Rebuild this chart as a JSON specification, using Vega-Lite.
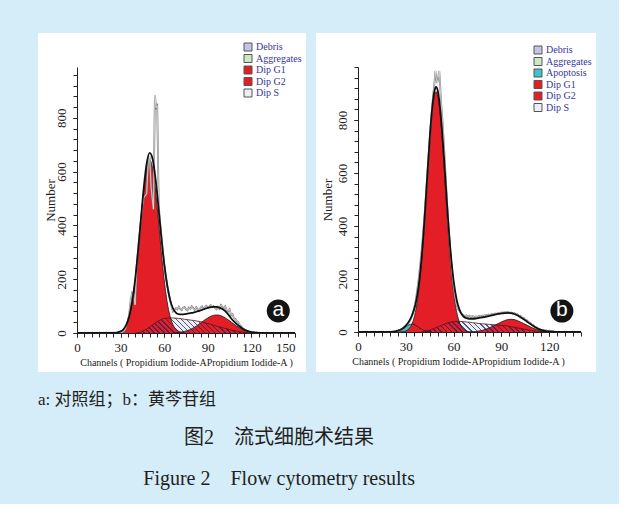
{
"$schema": "https://vega.github.io/schema/vega-lite/v6.json",
"background": "#d5ecf9",
"padding": {"left": 38, "top": 33, "right": 22, "bottom": 14},
"config": {
  "view": {"stroke": null},
  "axis": {"grid": false, "domainColor": "#222", "tickColor": "#222", "tickSize": 4, "labelFont": "Liberation Serif", "labelFontSize": 13, "labelColor": "#222", "titleFont": "Liberation Serif", "titleFontWeight": "normal", "titleColor": "#222", "labelFlush": false},
  "legend": {"labelFont": "Liberation Serif", "labelFontSize": 10, "labelColor": "#3535a0", "symbolType": "square", "symbolSize": 64, "rowPadding": -0.5, "labelOffset": 3, "padding": 0}
},
"datasets": {
  "aG1": [{"ch":26,"n":0},{"ch":28,"n":2},{"ch":30,"n":6},{"ch":32,"n":14},{"ch":34,"n":31},{"ch":36,"n":63},{"ch":38,"n":117},{"ch":40,"n":197},{"ch":42,"n":302},{"ch":44,"n":420},{"ch":46,"n":532},{"ch":48,"n":613},{"ch":50,"n":643},{"ch":52,"n":613},{"ch":54,"n":532},{"ch":56,"n":420},{"ch":58,"n":302},{"ch":60,"n":197},{"ch":62,"n":117},{"ch":64,"n":63},{"ch":66,"n":31},{"ch":68,"n":14},{"ch":70,"n":6},{"ch":72,"n":2},{"ch":74,"n":0}],
  "aG2": [{"ch":66,"n":0},{"ch":68,"n":1},{"ch":70,"n":2},{"ch":72,"n":4},{"ch":74,"n":6},{"ch":76,"n":9},{"ch":78,"n":13},{"ch":80,"n":19},{"ch":82,"n":25},{"ch":84,"n":33},{"ch":86,"n":41},{"ch":88,"n":49},{"ch":90,"n":56},{"ch":92,"n":62},{"ch":94,"n":66},{"ch":96,"n":67},{"ch":98,"n":66},{"ch":100,"n":62},{"ch":102,"n":56},{"ch":104,"n":49},{"ch":106,"n":41},{"ch":108,"n":33},{"ch":110,"n":25},{"ch":112,"n":19},{"ch":114,"n":13},{"ch":116,"n":9},{"ch":118,"n":6},{"ch":120,"n":4},{"ch":122,"n":2},{"ch":124,"n":1},{"ch":126,"n":0}],
  "aS": [{"ch":40,"n":0},{"ch":42,"n":1},{"ch":44,"n":4},{"ch":46,"n":9},{"ch":48,"n":15},{"ch":50,"n":22},{"ch":52,"n":30},{"ch":54,"n":38},{"ch":56,"n":45},{"ch":58,"n":50},{"ch":60,"n":54},{"ch":62,"n":55},{"ch":64,"n":56},{"ch":66,"n":56},{"ch":68,"n":55},{"ch":70,"n":54},{"ch":72,"n":53},{"ch":74,"n":51},{"ch":76,"n":50},{"ch":78,"n":48},{"ch":80,"n":47},{"ch":82,"n":45},{"ch":84,"n":43},{"ch":86,"n":41},{"ch":88,"n":38},{"ch":90,"n":35},{"ch":92,"n":32},{"ch":94,"n":29},{"ch":96,"n":26},{"ch":98,"n":23},{"ch":100,"n":20},{"ch":102,"n":17},{"ch":104,"n":14},{"ch":106,"n":11},{"ch":108,"n":9},{"ch":110,"n":7},{"ch":112,"n":5},{"ch":114,"n":3},{"ch":116,"n":2},{"ch":118,"n":1},{"ch":120,"n":0}],
  "aFit": [{"ch":0,"n":0},{"ch":24,"n":0},{"ch":26,"n":0},{"ch":28,"n":2},{"ch":30,"n":6},{"ch":32,"n":14},{"ch":34,"n":31},{"ch":36,"n":63},{"ch":38,"n":118},{"ch":40,"n":198},{"ch":42,"n":304},{"ch":44,"n":425},{"ch":46,"n":543},{"ch":48,"n":632},{"ch":50,"n":670},{"ch":52,"n":648},{"ch":54,"n":575},{"ch":56,"n":470},{"ch":58,"n":358},{"ch":60,"n":258},{"ch":62,"n":180},{"ch":64,"n":125},{"ch":66,"n":92},{"ch":68,"n":76},{"ch":70,"n":70},{"ch":72,"n":69},{"ch":74,"n":70},{"ch":76,"n":72},{"ch":78,"n":74},{"ch":80,"n":76},{"ch":82,"n":79},{"ch":84,"n":82},{"ch":86,"n":86},{"ch":88,"n":90},{"ch":90,"n":93},{"ch":92,"n":96},{"ch":94,"n":97},{"ch":96,"n":97},{"ch":98,"n":94},{"ch":100,"n":89},{"ch":102,"n":81},{"ch":104,"n":69},{"ch":106,"n":55},{"ch":108,"n":43},{"ch":110,"n":33},{"ch":112,"n":24},{"ch":114,"n":16},{"ch":116,"n":10},{"ch":118,"n":6},{"ch":120,"n":3},{"ch":122,"n":2},{"ch":124,"n":1},{"ch":126,"n":0},{"ch":150,"n":0}],
  "aRaw": [{"ch":0,"n":0},{"ch":30,"n":1},{"ch":32,"n":6},{"ch":33,"n":12},{"ch":34,"n":28},{"ch":35,"n":45},{"ch":36,"n":72},{"ch":37,"n":125},{"ch":38,"n":150},{"ch":39,"n":146},{"ch":40,"n":105},{"ch":41,"n":245},{"ch":42,"n":310},{"ch":43,"n":365},{"ch":44,"n":420},{"ch":45,"n":470},{"ch":46,"n":505},{"ch":47,"n":510},{"ch":48,"n":520},{"ch":49,"n":640},{"ch":50,"n":655},{"ch":51,"n":540},{"ch":52,"n":490},{"ch":52.6,"n":460},{"ch":53.6,"n":885},{"ch":54.4,"n":838},{"ch":55.2,"n":845},{"ch":56.2,"n":480},{"ch":57,"n":420},{"ch":58,"n":365},{"ch":59,"n":305},{"ch":60,"n":255},{"ch":61,"n":215},{"ch":62,"n":180},{"ch":63,"n":150},{"ch":64,"n":122},{"ch":65,"n":100},{"ch":66,"n":80},{"ch":67,"n":86},{"ch":68,"n":92},{"ch":69,"n":88},{"ch":70,"n":98},{"ch":71,"n":90},{"ch":72,"n":85},{"ch":73,"n":94},{"ch":74,"n":97},{"ch":75,"n":88},{"ch":76,"n":84},{"ch":77,"n":95},{"ch":78,"n":90},{"ch":79,"n":99},{"ch":80,"n":93},{"ch":81,"n":86},{"ch":82,"n":96},{"ch":83,"n":88},{"ch":84,"n":82},{"ch":85,"n":94},{"ch":86,"n":99},{"ch":87,"n":92},{"ch":88,"n":96},{"ch":89,"n":101},{"ch":90,"n":95},{"ch":91,"n":99},{"ch":92,"n":104},{"ch":93,"n":96},{"ch":94,"n":100},{"ch":95,"n":93},{"ch":96,"n":88},{"ch":97,"n":97},{"ch":98,"n":90},{"ch":99,"n":104},{"ch":100,"n":97},{"ch":101,"n":92},{"ch":102,"n":99},{"ch":103,"n":84},{"ch":104,"n":80},{"ch":105,"n":88},{"ch":106,"n":66},{"ch":107,"n":70},{"ch":108,"n":55},{"ch":109,"n":52},{"ch":110,"n":44},{"ch":111,"n":40},{"ch":112,"n":30},{"ch":113,"n":25},{"ch":114,"n":18},{"ch":115,"n":14},{"ch":116,"n":11},{"ch":117,"n":8},{"ch":118,"n":6},{"ch":119,"n":5},{"ch":120,"n":4},{"ch":122,"n":2},{"ch":124,"n":1},{"ch":126,"n":0},{"ch":150,"n":0}],
  "bAp": [{"ch":22,"n":0},{"ch":24,"n":1},{"ch":26,"n":5},{"ch":28,"n":11},{"ch":30,"n":19},{"ch":32,"n":27},{"ch":34,"n":30},{"ch":36,"n":26},{"ch":38,"n":18},{"ch":40,"n":10},{"ch":42,"n":5},{"ch":44,"n":2},{"ch":46,"n":0}],
  "bG1": [{"ch":26,"n":0},{"ch":28,"n":1},{"ch":30,"n":4},{"ch":32,"n":12},{"ch":34,"n":32},{"ch":36,"n":74},{"ch":38,"n":150},{"ch":40,"n":272},{"ch":42,"n":438},{"ch":44,"n":626},{"ch":46,"n":793},{"ch":48,"n":894},{"ch":49,"n":907},{"ch":50,"n":894},{"ch":52,"n":793},{"ch":54,"n":626},{"ch":56,"n":438},{"ch":58,"n":272},{"ch":60,"n":150},{"ch":62,"n":74},{"ch":64,"n":32},{"ch":66,"n":12},{"ch":68,"n":4},{"ch":70,"n":1},{"ch":72,"n":0}],
  "bG2": [{"ch":70,"n":0},{"ch":72,"n":1},{"ch":74,"n":2},{"ch":76,"n":4},{"ch":78,"n":6},{"ch":80,"n":10},{"ch":82,"n":14},{"ch":84,"n":20},{"ch":86,"n":26},{"ch":88,"n":32},{"ch":90,"n":38},{"ch":92,"n":43},{"ch":94,"n":47},{"ch":96,"n":48},{"ch":98,"n":47},{"ch":100,"n":43},{"ch":102,"n":38},{"ch":104,"n":32},{"ch":106,"n":26},{"ch":108,"n":20},{"ch":110,"n":14},{"ch":112,"n":10},{"ch":114,"n":6},{"ch":116,"n":4},{"ch":118,"n":2},{"ch":120,"n":1},{"ch":122,"n":0}],
  "bS": [{"ch":40,"n":0},{"ch":42,"n":2},{"ch":44,"n":5},{"ch":46,"n":9},{"ch":48,"n":14},{"ch":50,"n":19},{"ch":52,"n":24},{"ch":54,"n":29},{"ch":56,"n":34},{"ch":58,"n":37},{"ch":60,"n":39},{"ch":62,"n":40},{"ch":64,"n":40},{"ch":66,"n":39},{"ch":68,"n":38},{"ch":70,"n":37},{"ch":72,"n":35},{"ch":74,"n":34},{"ch":76,"n":32},{"ch":78,"n":31},{"ch":80,"n":30},{"ch":82,"n":29},{"ch":84,"n":28},{"ch":86,"n":27},{"ch":88,"n":26},{"ch":90,"n":25},{"ch":92,"n":24},{"ch":94,"n":22},{"ch":96,"n":20},{"ch":98,"n":18},{"ch":100,"n":16},{"ch":102,"n":13},{"ch":104,"n":11},{"ch":106,"n":9},{"ch":108,"n":7},{"ch":110,"n":5},{"ch":112,"n":3},{"ch":114,"n":2},{"ch":116,"n":1},{"ch":118,"n":0}],
  "bFit": [{"ch":0,"n":0},{"ch":20,"n":0},{"ch":22,"n":1},{"ch":24,"n":3},{"ch":26,"n":7},{"ch":28,"n":13},{"ch":30,"n":24},{"ch":32,"n":40},{"ch":34,"n":64},{"ch":36,"n":102},{"ch":38,"n":170},{"ch":40,"n":285},{"ch":42,"n":448},{"ch":44,"n":636},{"ch":46,"n":806},{"ch":48,"n":910},{"ch":49,"n":925},{"ch":50,"n":912},{"ch":52,"n":815},{"ch":54,"n":656},{"ch":56,"n":472},{"ch":58,"n":312},{"ch":60,"n":195},{"ch":62,"n":120},{"ch":64,"n":80},{"ch":66,"n":60},{"ch":68,"n":52},{"ch":70,"n":50},{"ch":72,"n":50},{"ch":74,"n":51},{"ch":76,"n":53},{"ch":78,"n":55},{"ch":80,"n":57},{"ch":82,"n":60},{"ch":84,"n":63},{"ch":86,"n":66},{"ch":88,"n":68},{"ch":90,"n":70},{"ch":92,"n":71},{"ch":94,"n":72},{"ch":96,"n":71},{"ch":98,"n":68},{"ch":100,"n":63},{"ch":102,"n":56},{"ch":104,"n":48},{"ch":106,"n":40},{"ch":108,"n":31},{"ch":110,"n":23},{"ch":112,"n":16},{"ch":114,"n":10},{"ch":116,"n":6},{"ch":118,"n":3},{"ch":120,"n":2},{"ch":122,"n":1},{"ch":124,"n":0},{"ch":140,"n":0}],
  "bRaw": [{"ch":0,"n":0},{"ch":22,"n":0},{"ch":23,"n":1},{"ch":24,"n":3},{"ch":25,"n":4},{"ch":26,"n":6},{"ch":27,"n":9},{"ch":28,"n":12},{"ch":29,"n":16},{"ch":30,"n":22},{"ch":31,"n":28},{"ch":32,"n":36},{"ch":33,"n":48},{"ch":34,"n":62},{"ch":35,"n":85},{"ch":36,"n":110},{"ch":37,"n":150},{"ch":38,"n":195},{"ch":39,"n":250},{"ch":40,"n":310},{"ch":41,"n":380},{"ch":42,"n":460},{"ch":43,"n":550},{"ch":44,"n":640},{"ch":45,"n":730},{"ch":46,"n":810},{"ch":47,"n":880},{"ch":48,"n":940},{"ch":48.6,"n":985},{"ch":49.3,"n":950},{"ch":49.8,"n":940},{"ch":50.4,"n":960},{"ch":51,"n":985},{"ch":51.6,"n":930},{"ch":52,"n":880},{"ch":53,"n":800},{"ch":54,"n":700},{"ch":55,"n":590},{"ch":56,"n":480},{"ch":57,"n":380},{"ch":58,"n":300},{"ch":59,"n":230},{"ch":60,"n":175},{"ch":61,"n":130},{"ch":62,"n":100},{"ch":63,"n":85},{"ch":64,"n":78},{"ch":65,"n":68},{"ch":66,"n":64},{"ch":67,"n":60},{"ch":68,"n":63},{"ch":69,"n":58},{"ch":70,"n":61},{"ch":71,"n":57},{"ch":72,"n":60},{"ch":73,"n":56},{"ch":74,"n":59},{"ch":75,"n":57},{"ch":76,"n":61},{"ch":77,"n":58},{"ch":78,"n":62},{"ch":79,"n":60},{"ch":80,"n":64},{"ch":81,"n":62},{"ch":82,"n":66},{"ch":83,"n":64},{"ch":84,"n":68},{"ch":85,"n":66},{"ch":86,"n":70},{"ch":87,"n":68},{"ch":88,"n":72},{"ch":89,"n":70},{"ch":90,"n":74},{"ch":91,"n":72},{"ch":92,"n":75},{"ch":93,"n":73},{"ch":94,"n":76},{"ch":95,"n":72},{"ch":96,"n":74},{"ch":97,"n":70},{"ch":98,"n":72},{"ch":99,"n":66},{"ch":100,"n":67},{"ch":101,"n":60},{"ch":102,"n":61},{"ch":103,"n":54},{"ch":104,"n":53},{"ch":105,"n":46},{"ch":106,"n":44},{"ch":107,"n":37},{"ch":108,"n":35},{"ch":109,"n":28},{"ch":110,"n":26},{"ch":111,"n":20},{"ch":112,"n":18},{"ch":113,"n":13},{"ch":114,"n":11},{"ch":115,"n":8},{"ch":116,"n":8},{"ch":117,"n":6},{"ch":118,"n":6},{"ch":119,"n":4},{"ch":120,"n":5},{"ch":121,"n":3},{"ch":122,"n":4},{"ch":123,"n":2},{"ch":124,"n":1},{"ch":126,"n":0},{"ch":140,"n":0}]
},
"title": {"text": "图2　流式细胞术结果", "subtitle": "Figure 2　Flow cytometry results", "orient": "bottom", "anchor": "middle", "dx": -38, "offset": 20, "font": "Liberation Serif, Noto Sans CJK SC", "fontSize": 20, "fontWeight": "normal", "color": "#231f20", "subtitleFont": "Liberation Serif, Noto Sans CJK SC", "subtitleFontSize": 20, "subtitleColor": "#231f20", "subtitlePadding": 21},
"vconcat": [
{
"title": {"text": "a: 对照组；b：黄芩苷组", "orient": "bottom", "anchor": "start", "offset": 20, "font": "Liberation Serif, Noto Sans CJK SC", "fontSize": 17, "fontWeight": "normal", "color": "#231f20"},
"concat": [
{
"width": 218, "height": 266,
"resolve": {"scale": {"x": "independent", "y": "independent"}},
"layer": [
{"layer": [
  {"data": {"values": [{}]}, "mark": {"type": "rect", "fill": "white"},
   "encoding": {
     "x": {"datum": -26.8, "type": "quantitative", "scale": {"domain": [0,150]},
           "axis": {"zindex": 2, "orient": "bottom", "values": [0,30,60,90,120,150], "labelAlign": {"condition": {"test": "datum.value == 150", "value": "right"}, "value": "center"}, "title": "Channels ( Propidium Iodide-APropidium Iodide-A )", "titleFontSize": 10, "titlePadding": 3, "labelPadding": 4}},
     "x2": {"datum": 157.6},
     "y": {"datum": -145, "type": "quantitative", "scale": {"domain": [0,989]},
           "axis": {"zindex": 2, "orient": "left", "values": [0,200,400,600,800], "labelAngle": -90, "title": "Number", "titleFontSize": 13, "titlePadding": -2, "labelPadding": 5}},
     "y2": {"datum": 1115}}},
  {"data": {"name": "aS"}, "mark": {"type": "area", "interpolate": "monotone", "opacity": 1},
   "encoding": {"x": {"field": "ch", "type": "quantitative", "scale": {"domain": [0,150]}}, "y": {"field": "n", "type": "quantitative", "scale": {"domain": [0,989]}},
     "color": {"datum": "Dip S", "type": "nominal", "scale": {"domain": ["Debris","Aggregates","Dip G1","Dip G2","Dip S"], "range": ["#c4c4e6","#cce8c4","#e41e26","#e41e26","#eceef6"]}, "legend": {"title": null, "orient": "none", "legendX": 166, "legendY": -25, "symbolStrokeColor": "#555", "symbolStrokeWidth": 1}}}},
  {"data": {"name": "aG1"}, "mark": {"type": "area", "interpolate": "monotone", "opacity": 1},
   "encoding": {"x": {"field": "ch", "type": "quantitative", "scale": {"domain": [0,150]}}, "y": {"field": "n", "type": "quantitative", "scale": {"domain": [0,989]}},
     "color": {"datum": "Dip G1", "type": "nominal"}}},
  {"data": {"name": "aG2"}, "mark": {"type": "area", "interpolate": "monotone", "opacity": 1},
   "encoding": {"x": {"field": "ch", "type": "quantitative", "scale": {"domain": [0,150]}}, "y": {"field": "n", "type": "quantitative", "scale": {"domain": [0,989]}},
     "color": {"datum": "Dip G2", "type": "nominal"}}},
  {"data": {"name": "aS"}, "mark": {"type": "area", "interpolate": "monotone", "fill": {"gradient": "linear", "x1": 0, "y1": 1, "x2": 1.1107, "y2": 0.8564, "stops": [
     {"offset":0,"color":"rgba(255,255,255,0)"},{"offset":0.0265,"color":"rgba(255,255,255,0)"},{"offset":0.0265,"color":"rgba(35,35,90,0.75)"},{"offset":0.0385,"color":"rgba(35,35,90,0.75)"},
     {"offset":0.0385,"color":"rgba(255,255,255,0)"},{"offset":0.0649,"color":"rgba(255,255,255,0)"},{"offset":0.0649,"color":"rgba(35,35,90,0.75)"},{"offset":0.0769,"color":"rgba(35,35,90,0.75)"},
     {"offset":0.0769,"color":"rgba(255,255,255,0)"},{"offset":0.1034,"color":"rgba(255,255,255,0)"},{"offset":0.1034,"color":"rgba(35,35,90,0.75)"},{"offset":0.1154,"color":"rgba(35,35,90,0.75)"},
     {"offset":0.1154,"color":"rgba(255,255,255,0)"},{"offset":0.1418,"color":"rgba(255,255,255,0)"},{"offset":0.1418,"color":"rgba(35,35,90,0.75)"},{"offset":0.1538,"color":"rgba(35,35,90,0.75)"},
     {"offset":0.1538,"color":"rgba(255,255,255,0)"},{"offset":0.1803,"color":"rgba(255,255,255,0)"},{"offset":0.1803,"color":"rgba(35,35,90,0.75)"},{"offset":0.1923,"color":"rgba(35,35,90,0.75)"},
     {"offset":0.1923,"color":"rgba(255,255,255,0)"},{"offset":0.2188,"color":"rgba(255,255,255,0)"},{"offset":0.2188,"color":"rgba(35,35,90,0.75)"},{"offset":0.2308,"color":"rgba(35,35,90,0.75)"},
     {"offset":0.2308,"color":"rgba(255,255,255,0)"},{"offset":0.2572,"color":"rgba(255,255,255,0)"},{"offset":0.2572,"color":"rgba(35,35,90,0.75)"},{"offset":0.2692,"color":"rgba(35,35,90,0.75)"},
     {"offset":0.2692,"color":"rgba(255,255,255,0)"},{"offset":0.2957,"color":"rgba(255,255,255,0)"},{"offset":0.2957,"color":"rgba(35,35,90,0.75)"},{"offset":0.3077,"color":"rgba(35,35,90,0.75)"},
     {"offset":0.3077,"color":"rgba(255,255,255,0)"},{"offset":0.3341,"color":"rgba(255,255,255,0)"},{"offset":0.3341,"color":"rgba(35,35,90,0.75)"},{"offset":0.3462,"color":"rgba(35,35,90,0.75)"},
     {"offset":0.3462,"color":"rgba(255,255,255,0)"},{"offset":0.3726,"color":"rgba(255,255,255,0)"},{"offset":0.3726,"color":"rgba(35,35,90,0.75)"},{"offset":0.3846,"color":"rgba(35,35,90,0.75)"},
     {"offset":0.3846,"color":"rgba(255,255,255,0)"},{"offset":0.4111,"color":"rgba(255,255,255,0)"},{"offset":0.4111,"color":"rgba(35,35,90,0.75)"},{"offset":0.4231,"color":"rgba(35,35,90,0.75)"},
     {"offset":0.4231,"color":"rgba(255,255,255,0)"},{"offset":0.4495,"color":"rgba(255,255,255,0)"},{"offset":0.4495,"color":"rgba(35,35,90,0.75)"},{"offset":0.4615,"color":"rgba(35,35,90,0.75)"},
     {"offset":0.4615,"color":"rgba(255,255,255,0)"},{"offset":0.4880,"color":"rgba(255,255,255,0)"},{"offset":0.4880,"color":"rgba(35,35,90,0.75)"},{"offset":0.5000,"color":"rgba(35,35,90,0.75)"},
     {"offset":0.5000,"color":"rgba(255,255,255,0)"},{"offset":0.5265,"color":"rgba(255,255,255,0)"},{"offset":0.5265,"color":"rgba(35,35,90,0.75)"},{"offset":0.5385,"color":"rgba(35,35,90,0.75)"},
     {"offset":0.5385,"color":"rgba(255,255,255,0)"},{"offset":0.5649,"color":"rgba(255,255,255,0)"},{"offset":0.5649,"color":"rgba(35,35,90,0.75)"},{"offset":0.5769,"color":"rgba(35,35,90,0.75)"},
     {"offset":0.5769,"color":"rgba(255,255,255,0)"},{"offset":0.6034,"color":"rgba(255,255,255,0)"},{"offset":0.6034,"color":"rgba(35,35,90,0.75)"},{"offset":0.6154,"color":"rgba(35,35,90,0.75)"},
     {"offset":0.6154,"color":"rgba(255,255,255,0)"},{"offset":0.6418,"color":"rgba(255,255,255,0)"},{"offset":0.6418,"color":"rgba(35,35,90,0.75)"},{"offset":0.6538,"color":"rgba(35,35,90,0.75)"},
     {"offset":0.6538,"color":"rgba(255,255,255,0)"},{"offset":0.6803,"color":"rgba(255,255,255,0)"},{"offset":0.6803,"color":"rgba(35,35,90,0.75)"},{"offset":0.6923,"color":"rgba(35,35,90,0.75)"},
     {"offset":0.6923,"color":"rgba(255,255,255,0)"},{"offset":0.7188,"color":"rgba(255,255,255,0)"},{"offset":0.7188,"color":"rgba(35,35,90,0.75)"},{"offset":0.7308,"color":"rgba(35,35,90,0.75)"},
     {"offset":0.7308,"color":"rgba(255,255,255,0)"},{"offset":0.7572,"color":"rgba(255,255,255,0)"},{"offset":0.7572,"color":"rgba(35,35,90,0.75)"},{"offset":0.7692,"color":"rgba(35,35,90,0.75)"},
     {"offset":0.7692,"color":"rgba(255,255,255,0)"},{"offset":0.7957,"color":"rgba(255,255,255,0)"},{"offset":0.7957,"color":"rgba(35,35,90,0.75)"},{"offset":0.8077,"color":"rgba(35,35,90,0.75)"},
     {"offset":0.8077,"color":"rgba(255,255,255,0)"},{"offset":0.8341,"color":"rgba(255,255,255,0)"},{"offset":0.8341,"color":"rgba(35,35,90,0.75)"},{"offset":0.8462,"color":"rgba(35,35,90,0.75)"},
     {"offset":0.8462,"color":"rgba(255,255,255,0)"},{"offset":0.8726,"color":"rgba(255,255,255,0)"},{"offset":0.8726,"color":"rgba(35,35,90,0.75)"},{"offset":0.8846,"color":"rgba(35,35,90,0.75)"},
     {"offset":0.8846,"color":"rgba(255,255,255,0)"},{"offset":0.9111,"color":"rgba(255,255,255,0)"},{"offset":0.9111,"color":"rgba(35,35,90,0.75)"},{"offset":0.9231,"color":"rgba(35,35,90,0.75)"},
     {"offset":0.9231,"color":"rgba(255,255,255,0)"},{"offset":0.9495,"color":"rgba(255,255,255,0)"},{"offset":0.9495,"color":"rgba(35,35,90,0.75)"},{"offset":0.9615,"color":"rgba(35,35,90,0.75)"},
     {"offset":0.9615,"color":"rgba(255,255,255,0)"},{"offset":0.9880,"color":"rgba(255,255,255,0)"},{"offset":0.9880,"color":"rgba(35,35,90,0.75)"},{"offset":1,"color":"rgba(35,35,90,0.75)"}]}},
   "encoding": {"x": {"field": "ch", "type": "quantitative", "scale": {"domain": [0,150]}}, "y": {"field": "n", "type": "quantitative", "scale": {"domain": [0,989]}}}},
  {"data": {"name": "aS"}, "mark": {"type": "line", "interpolate": "monotone", "color": "#4a1616", "strokeWidth": 0.8},
   "encoding": {"x": {"field": "ch", "type": "quantitative", "scale": {"domain": [0,150]}}, "y": {"field": "n", "type": "quantitative", "scale": {"domain": [0,989]}}}},
  {"data": {"name": "aG1"}, "mark": {"type": "line", "interpolate": "monotone", "color": "#1a1a1a", "strokeWidth": 0.8},
   "encoding": {"x": {"field": "ch", "type": "quantitative", "scale": {"domain": [0,150]}}, "y": {"field": "n", "type": "quantitative", "scale": {"domain": [0,989]}}}},
  {"data": {"name": "aG2"}, "mark": {"type": "line", "interpolate": "monotone", "color": "#1a1a1a", "strokeWidth": 0.8},
   "encoding": {"x": {"field": "ch", "type": "quantitative", "scale": {"domain": [0,150]}}, "y": {"field": "n", "type": "quantitative", "scale": {"domain": [0,989]}}}},
  {"data": {"name": "aRaw"}, "mark": {"type": "line", "color": "#7a7a7a", "strokeWidth": 1.8},
   "encoding": {"x": {"field": "ch", "type": "quantitative", "scale": {"domain": [0,150]}}, "y": {"field": "n", "type": "quantitative", "scale": {"domain": [0,989]}}}},
  {"data": {"name": "aRaw"}, "mark": {"type": "line", "color": "#ffffff", "strokeWidth": 0.6},
   "encoding": {"x": {"field": "ch", "type": "quantitative", "scale": {"domain": [0,150]}}, "y": {"field": "n", "type": "quantitative", "scale": {"domain": [0,989]}}}},
  {"data": {"name": "aFit"}, "mark": {"type": "line", "interpolate": "monotone", "color": "#111", "strokeWidth": 1.8},
   "encoding": {"x": {"field": "ch", "type": "quantitative", "scale": {"domain": [0,150]}}, "y": {"field": "n", "type": "quantitative", "scale": {"domain": [0,989]}}}},
  {"data": {"values": [{}]}, "mark": {"type": "point", "shape": "circle", "filled": true, "size": 530, "color": "#141414", "opacity": 1},
   "encoding": {"x": {"datum": 138.5, "type": "quantitative", "scale": {"domain": [0,150]}}, "y": {"datum": 82, "type": "quantitative", "scale": {"domain": [0,989]}}}},
  {"data": {"values": [{}]}, "mark": {"type": "text", "text": "a", "color": "white", "font": "Liberation Sans", "fontSize": 21, "baseline": "middle", "align": "center", "dy": -1},
   "encoding": {"x": {"datum": 138.5, "type": "quantitative", "scale": {"domain": [0,150]}}, "y": {"datum": 82, "type": "quantitative", "scale": {"domain": [0,989]}}}}
]},
{"data": {"values": [{}]}, "mark": {"type": "point", "opacity": 0},
 "encoding": {
   "x": {"datum": 0, "type": "quantitative", "scale": {"domain": [0,150]}, "axis": {"zindex": 2, "orient": "bottom", "values": [0,5,10,15,20,25,30,35,40,45,50,55,60,65,70,75,80,85,90,95,100,105,110,115,120,125,130,135,140,145,150], "labels": false, "domain": false, "title": null}},
   "y": {"datum": 0, "type": "quantitative", "scale": {"domain": [0,989]}, "axis": {"zindex": 2, "orient": "left", "values": [0,40,80,120,160,200,240,280,320,360,400,440,480,520,560,600,640,680,720,760,800,840,880,920,960], "labels": false, "domain": false, "title": null}}}}
]
},
{
"width": 223, "height": 265,
"resolve": {"scale": {"x": "independent", "y": "independent"}},
"layer": [
{"layer": [
  {"data": {"values": [{}]}, "mark": {"type": "rect", "fill": "white"},
   "encoding": {
     "x": {"datum": -26.4, "type": "quantitative", "scale": {"domain": [0,140]},
           "axis": {"zindex": 2, "orient": "bottom", "values": [0,30,60,90,120], "title": "Channels ( Propidium Iodide-APropidium Iodide-A )", "titleFontSize": 10, "titlePadding": 3, "labelPadding": 4, "titleX": 100}},
     "x2": {"datum": 149.5},
     "y": {"datum": -151, "type": "quantitative", "scale": {"domain": [0,1000]},
           "axis": {"zindex": 2, "orient": "left", "values": [0,200,400,600,800], "labelAngle": -90, "title": "Number", "titleFontSize": 13, "titlePadding": 2, "labelPadding": 5}},
     "y2": {"datum": 1128}}},
  {"data": {"name": "bS"}, "mark": {"type": "area", "interpolate": "monotone", "opacity": 1},
   "encoding": {"x": {"field": "ch", "type": "quantitative", "scale": {"domain": [0,140]}}, "y": {"field": "n", "type": "quantitative", "scale": {"domain": [0,1000]}},
     "color": {"datum": "Dip S", "type": "nominal", "scale": {"domain": ["Debris","Aggregates","Apoptosis","Dip G1","Dip G2","Dip S"], "range": ["#c4c4e6","#cce8c4","#3cc4cc","#e41e26","#e41e26","#eceef6"]}, "legend": {"title": null, "orient": "none", "legendX": 175, "legendY": -22, "symbolStrokeColor": "#555", "symbolStrokeWidth": 1}}}},
  {"data": {"name": "bAp"}, "mark": {"type": "area", "interpolate": "monotone", "opacity": 1},
   "encoding": {"x": {"field": "ch", "type": "quantitative", "scale": {"domain": [0,140]}}, "y": {"field": "n", "type": "quantitative", "scale": {"domain": [0,1000]}},
     "color": {"datum": "Apoptosis", "type": "nominal"}}},
  {"data": {"name": "bG1"}, "mark": {"type": "area", "interpolate": "monotone", "opacity": 1},
   "encoding": {"x": {"field": "ch", "type": "quantitative", "scale": {"domain": [0,140]}}, "y": {"field": "n", "type": "quantitative", "scale": {"domain": [0,1000]}},
     "color": {"datum": "Dip G1", "type": "nominal"}}},
  {"data": {"name": "bG2"}, "mark": {"type": "area", "interpolate": "monotone", "opacity": 1},
   "encoding": {"x": {"field": "ch", "type": "quantitative", "scale": {"domain": [0,140]}}, "y": {"field": "n", "type": "quantitative", "scale": {"domain": [0,1000]}},
     "color": {"datum": "Dip G2", "type": "nominal"}}},
  {"data": {"name": "bS"}, "mark": {"type": "area", "interpolate": "monotone", "fill": {"gradient": "linear", "x1": 0, "y1": 1, "x2": 1.0776, "y2": 0.9079, "stops": [
     {"offset":0,"color":"rgba(255,255,255,0)"},{"offset":0.0265,"color":"rgba(255,255,255,0)"},{"offset":0.0265,"color":"rgba(35,35,90,0.75)"},{"offset":0.0385,"color":"rgba(35,35,90,0.75)"},
     {"offset":0.0385,"color":"rgba(255,255,255,0)"},{"offset":0.0649,"color":"rgba(255,255,255,0)"},{"offset":0.0649,"color":"rgba(35,35,90,0.75)"},{"offset":0.0769,"color":"rgba(35,35,90,0.75)"},
     {"offset":0.0769,"color":"rgba(255,255,255,0)"},{"offset":0.1034,"color":"rgba(255,255,255,0)"},{"offset":0.1034,"color":"rgba(35,35,90,0.75)"},{"offset":0.1154,"color":"rgba(35,35,90,0.75)"},
     {"offset":0.1154,"color":"rgba(255,255,255,0)"},{"offset":0.1418,"color":"rgba(255,255,255,0)"},{"offset":0.1418,"color":"rgba(35,35,90,0.75)"},{"offset":0.1538,"color":"rgba(35,35,90,0.75)"},
     {"offset":0.1538,"color":"rgba(255,255,255,0)"},{"offset":0.1803,"color":"rgba(255,255,255,0)"},{"offset":0.1803,"color":"rgba(35,35,90,0.75)"},{"offset":0.1923,"color":"rgba(35,35,90,0.75)"},
     {"offset":0.1923,"color":"rgba(255,255,255,0)"},{"offset":0.2188,"color":"rgba(255,255,255,0)"},{"offset":0.2188,"color":"rgba(35,35,90,0.75)"},{"offset":0.2308,"color":"rgba(35,35,90,0.75)"},
     {"offset":0.2308,"color":"rgba(255,255,255,0)"},{"offset":0.2572,"color":"rgba(255,255,255,0)"},{"offset":0.2572,"color":"rgba(35,35,90,0.75)"},{"offset":0.2692,"color":"rgba(35,35,90,0.75)"},
     {"offset":0.2692,"color":"rgba(255,255,255,0)"},{"offset":0.2957,"color":"rgba(255,255,255,0)"},{"offset":0.2957,"color":"rgba(35,35,90,0.75)"},{"offset":0.3077,"color":"rgba(35,35,90,0.75)"},
     {"offset":0.3077,"color":"rgba(255,255,255,0)"},{"offset":0.3341,"color":"rgba(255,255,255,0)"},{"offset":0.3341,"color":"rgba(35,35,90,0.75)"},{"offset":0.3462,"color":"rgba(35,35,90,0.75)"},
     {"offset":0.3462,"color":"rgba(255,255,255,0)"},{"offset":0.3726,"color":"rgba(255,255,255,0)"},{"offset":0.3726,"color":"rgba(35,35,90,0.75)"},{"offset":0.3846,"color":"rgba(35,35,90,0.75)"},
     {"offset":0.3846,"color":"rgba(255,255,255,0)"},{"offset":0.4111,"color":"rgba(255,255,255,0)"},{"offset":0.4111,"color":"rgba(35,35,90,0.75)"},{"offset":0.4231,"color":"rgba(35,35,90,0.75)"},
     {"offset":0.4231,"color":"rgba(255,255,255,0)"},{"offset":0.4495,"color":"rgba(255,255,255,0)"},{"offset":0.4495,"color":"rgba(35,35,90,0.75)"},{"offset":0.4615,"color":"rgba(35,35,90,0.75)"},
     {"offset":0.4615,"color":"rgba(255,255,255,0)"},{"offset":0.4880,"color":"rgba(255,255,255,0)"},{"offset":0.4880,"color":"rgba(35,35,90,0.75)"},{"offset":0.5000,"color":"rgba(35,35,90,0.75)"},
     {"offset":0.5000,"color":"rgba(255,255,255,0)"},{"offset":0.5265,"color":"rgba(255,255,255,0)"},{"offset":0.5265,"color":"rgba(35,35,90,0.75)"},{"offset":0.5385,"color":"rgba(35,35,90,0.75)"},
     {"offset":0.5385,"color":"rgba(255,255,255,0)"},{"offset":0.5649,"color":"rgba(255,255,255,0)"},{"offset":0.5649,"color":"rgba(35,35,90,0.75)"},{"offset":0.5769,"color":"rgba(35,35,90,0.75)"},
     {"offset":0.5769,"color":"rgba(255,255,255,0)"},{"offset":0.6034,"color":"rgba(255,255,255,0)"},{"offset":0.6034,"color":"rgba(35,35,90,0.75)"},{"offset":0.6154,"color":"rgba(35,35,90,0.75)"},
     {"offset":0.6154,"color":"rgba(255,255,255,0)"},{"offset":0.6418,"color":"rgba(255,255,255,0)"},{"offset":0.6418,"color":"rgba(35,35,90,0.75)"},{"offset":0.6538,"color":"rgba(35,35,90,0.75)"},
     {"offset":0.6538,"color":"rgba(255,255,255,0)"},{"offset":0.6803,"color":"rgba(255,255,255,0)"},{"offset":0.6803,"color":"rgba(35,35,90,0.75)"},{"offset":0.6923,"color":"rgba(35,35,90,0.75)"},
     {"offset":0.6923,"color":"rgba(255,255,255,0)"},{"offset":0.7188,"color":"rgba(255,255,255,0)"},{"offset":0.7188,"color":"rgba(35,35,90,0.75)"},{"offset":0.7308,"color":"rgba(35,35,90,0.75)"},
     {"offset":0.7308,"color":"rgba(255,255,255,0)"},{"offset":0.7572,"color":"rgba(255,255,255,0)"},{"offset":0.7572,"color":"rgba(35,35,90,0.75)"},{"offset":0.7692,"color":"rgba(35,35,90,0.75)"},
     {"offset":0.7692,"color":"rgba(255,255,255,0)"},{"offset":0.7957,"color":"rgba(255,255,255,0)"},{"offset":0.7957,"color":"rgba(35,35,90,0.75)"},{"offset":0.8077,"color":"rgba(35,35,90,0.75)"},
     {"offset":0.8077,"color":"rgba(255,255,255,0)"},{"offset":0.8341,"color":"rgba(255,255,255,0)"},{"offset":0.8341,"color":"rgba(35,35,90,0.75)"},{"offset":0.8462,"color":"rgba(35,35,90,0.75)"},
     {"offset":0.8462,"color":"rgba(255,255,255,0)"},{"offset":0.8726,"color":"rgba(255,255,255,0)"},{"offset":0.8726,"color":"rgba(35,35,90,0.75)"},{"offset":0.8846,"color":"rgba(35,35,90,0.75)"},
     {"offset":0.8846,"color":"rgba(255,255,255,0)"},{"offset":0.9111,"color":"rgba(255,255,255,0)"},{"offset":0.9111,"color":"rgba(35,35,90,0.75)"},{"offset":0.9231,"color":"rgba(35,35,90,0.75)"},
     {"offset":0.9231,"color":"rgba(255,255,255,0)"},{"offset":0.9495,"color":"rgba(255,255,255,0)"},{"offset":0.9495,"color":"rgba(35,35,90,0.75)"},{"offset":0.9615,"color":"rgba(35,35,90,0.75)"},
     {"offset":0.9615,"color":"rgba(255,255,255,0)"},{"offset":0.9880,"color":"rgba(255,255,255,0)"},{"offset":0.9880,"color":"rgba(35,35,90,0.75)"},{"offset":1,"color":"rgba(35,35,90,0.75)"}]}},
   "encoding": {"x": {"field": "ch", "type": "quantitative", "scale": {"domain": [0,140]}}, "y": {"field": "n", "type": "quantitative", "scale": {"domain": [0,1000]}}}},
  {"data": {"name": "bS"}, "mark": {"type": "line", "interpolate": "monotone", "color": "#4a1616", "strokeWidth": 0.8},
   "encoding": {"x": {"field": "ch", "type": "quantitative", "scale": {"domain": [0,140]}}, "y": {"field": "n", "type": "quantitative", "scale": {"domain": [0,1000]}}}},
  {"data": {"name": "bAp"}, "mark": {"type": "line", "interpolate": "monotone", "color": "#1a1a1a", "strokeWidth": 0.8},
   "encoding": {"x": {"field": "ch", "type": "quantitative", "scale": {"domain": [0,140]}}, "y": {"field": "n", "type": "quantitative", "scale": {"domain": [0,1000]}}}},
  {"data": {"name": "bG1"}, "mark": {"type": "line", "interpolate": "monotone", "color": "#1a1a1a", "strokeWidth": 0.8},
   "encoding": {"x": {"field": "ch", "type": "quantitative", "scale": {"domain": [0,140]}}, "y": {"field": "n", "type": "quantitative", "scale": {"domain": [0,1000]}}}},
  {"data": {"name": "bG2"}, "mark": {"type": "line", "interpolate": "monotone", "color": "#1a1a1a", "strokeWidth": 0.8},
   "encoding": {"x": {"field": "ch", "type": "quantitative", "scale": {"domain": [0,140]}}, "y": {"field": "n", "type": "quantitative", "scale": {"domain": [0,1000]}}}},
  {"data": {"name": "bRaw"}, "mark": {"type": "line", "color": "#7a7a7a", "strokeWidth": 1.8},
   "encoding": {"x": {"field": "ch", "type": "quantitative", "scale": {"domain": [0,140]}}, "y": {"field": "n", "type": "quantitative", "scale": {"domain": [0,1000]}}}},
  {"data": {"name": "bRaw"}, "mark": {"type": "line", "color": "#ffffff", "strokeWidth": 0.6},
   "encoding": {"x": {"field": "ch", "type": "quantitative", "scale": {"domain": [0,140]}}, "y": {"field": "n", "type": "quantitative", "scale": {"domain": [0,1000]}}}},
  {"data": {"name": "bFit"}, "mark": {"type": "line", "interpolate": "monotone", "color": "#111", "strokeWidth": 1.8},
   "encoding": {"x": {"field": "ch", "type": "quantitative", "scale": {"domain": [0,140]}}, "y": {"field": "n", "type": "quantitative", "scale": {"domain": [0,1000]}}}},
  {"data": {"values": [{}]}, "mark": {"type": "point", "shape": "circle", "filled": true, "size": 530, "color": "#141414", "opacity": 1},
   "encoding": {"x": {"datum": 128, "type": "quantitative", "scale": {"domain": [0,140]}}, "y": {"datum": 79, "type": "quantitative", "scale": {"domain": [0,1000]}}}},
  {"data": {"values": [{}]}, "mark": {"type": "text", "text": "b", "color": "white", "font": "Liberation Sans", "fontSize": 21, "baseline": "middle", "align": "center", "dy": -1},
   "encoding": {"x": {"datum": 128, "type": "quantitative", "scale": {"domain": [0,140]}}, "y": {"datum": 79, "type": "quantitative", "scale": {"domain": [0,1000]}}}}
]},
{"data": {"values": [{}]}, "mark": {"type": "point", "opacity": 0},
 "encoding": {
   "x": {"datum": 0, "type": "quantitative", "scale": {"domain": [0,140]}, "axis": {"zindex": 2, "orient": "bottom", "values": [0,5,10,15,20,25,30,35,40,45,50,55,60,65,70,75,80,85,90,95,100,105,110,115,120,125,130,135,140], "labels": false, "domain": false, "title": null}},
   "y": {"datum": 0, "type": "quantitative", "scale": {"domain": [0,1000]}, "axis": {"zindex": 2, "orient": "left", "values": [0,40,80,120,160,200,240,280,320,360,400,440,480,520,560,600,640,680,720,760,800,840,880,920,960,1000], "labels": false, "domain": false, "title": null}}}}
]
}
],
"columns": 2, "align": "none", "spacing": 8,
"resolve": {"scale": {"x": "independent", "y": "independent", "color": "independent"}}
}
]
}
